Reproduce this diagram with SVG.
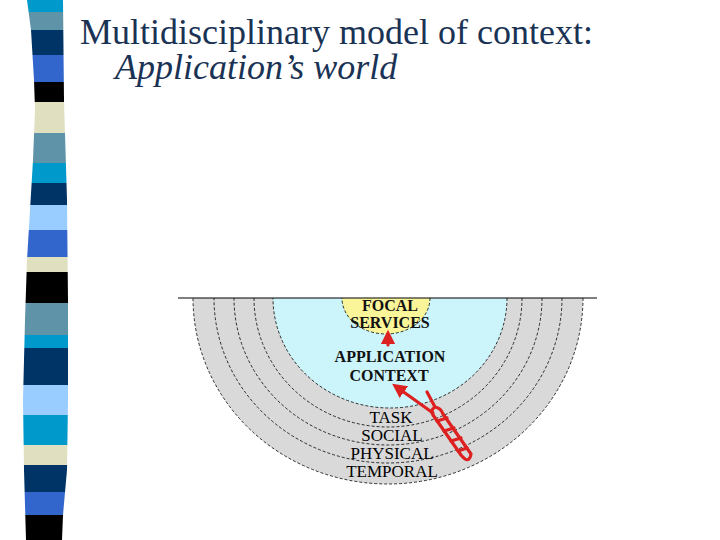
<svg xmlns="http://www.w3.org/2000/svg" width="720" height="540" viewBox="0 0 720 540">
<style>
.ring{stroke:#000;stroke-width:0.8;stroke-dasharray:3 2}
.lbl{font-family:"Liberation Serif","Times New Roman",serif;font-size:17px;fill:#000;text-anchor:middle}
.b{font-weight:bold;font-size:16px;fill:#111}
.red{stroke:#dd2020;stroke-width:3.2;fill:none;stroke-linecap:round;stroke-linejoin:round}
</style>
<defs>
<clipPath id="band"><path d="M27,0 L31,30 L34,80 L35,110 L33,160 L30,210 L27,260 L25,320 L23,400 L24,470 L26,540 L62,540 L63,515 L67,470 L68,400 L68,300 L67,200 L64,100 L63,0 Z"/></clipPath>
<clipPath id="half"><rect x="0" y="298" width="720" height="242"/></clipPath>
<marker id="ah" viewBox="0 0 10 10" refX="5" refY="5" markerWidth="4.5" markerHeight="4.5" orient="auto-start-reverse"><path d="M0,0 L10,5 L0,10 Z" fill="#dd2020"/></marker>
</defs>
<rect width="720" height="540" fill="#fff"/>
<g id="stripes" clip-path="url(#band)">
<rect x="0" y="0" width="80" height="12" fill="#0099cc"/>
<rect x="0" y="12" width="80" height="18" fill="#5f93a8"/>
<rect x="0" y="30" width="80" height="25" fill="#003366"/>
<rect x="0" y="55" width="80" height="27" fill="#3366cc"/>
<rect x="0" y="82" width="80" height="20" fill="#000"/>
<rect x="0" y="102" width="80" height="31" fill="#e0e0c0"/>
<rect x="0" y="133" width="80" height="30" fill="#5f93a8"/>
<rect x="0" y="163" width="80" height="20" fill="#0099cc"/>
<rect x="0" y="183" width="80" height="22" fill="#003366"/>
<rect x="0" y="205" width="80" height="25" fill="#99ccff"/>
<rect x="0" y="230" width="80" height="27" fill="#3366cc"/>
<rect x="0" y="257" width="80" height="15" fill="#e0e0c0"/>
<rect x="0" y="272" width="80" height="31" fill="#000"/>
<rect x="0" y="303" width="80" height="32" fill="#5f93a8"/>
<rect x="0" y="335" width="80" height="13" fill="#0099cc"/>
<rect x="0" y="348" width="80" height="37" fill="#003366"/>
<rect x="0" y="385" width="80" height="30" fill="#99ccff"/>
<rect x="0" y="415" width="80" height="30" fill="#0099cc"/>
<rect x="0" y="445" width="80" height="20" fill="#e0e0c0"/>
<rect x="0" y="465" width="80" height="27" fill="#003366"/>
<rect x="0" y="492" width="80" height="23" fill="#3366cc"/>
<rect x="0" y="515" width="80" height="25" fill="#000"/>
</g>
<g id="title" font-family="'Liberation Serif','Times New Roman',serif" fill="#1a3355">
<text x="80" y="44" font-size="36">Multidisciplinary model of context:</text>
<text x="115" y="79" font-size="36" font-style="italic">Application’s world</text>
</g>
<g id="model" clip-path="url(#half)">
<g id="temporal"><ellipse cx="388" cy="298" rx="195" ry="186" fill="#d9d9d9" class="ring"/></g>
<g id="physical"><ellipse cx="388" cy="298" rx="174" ry="165" fill="#d9d9d9" class="ring"/></g>
<g id="social"><ellipse cx="388" cy="298" rx="154" ry="147" fill="#d9d9d9" class="ring"/></g>
<g id="task"><ellipse cx="388" cy="298" rx="134" ry="129" fill="#d9d9d9" class="ring"/></g>
<g id="application"><ellipse cx="390" cy="298" rx="117" ry="110" fill="#ccf5fb" class="ring"/></g>
<g id="focal"><ellipse cx="386" cy="298" rx="44" ry="36" fill="#fbf59a" class="ring"/></g>
</g>
<line x1="178" y1="298" x2="597" y2="298" stroke="#000" stroke-width="1"/>
<g id="labels">
<text class="lbl b" x="390" y="311">FOCAL</text>
<text class="lbl b" x="390" y="328">SERVICES</text>
<text class="lbl b" x="390" y="362">APPLICATION</text>
<text class="lbl b" x="389" y="381">CONTEXT</text>
<text class="lbl" x="391" y="423">TASK</text>
<text class="lbl" x="392" y="441">SOCIAL</text>
<text class="lbl" x="392" y="459">PHYSICAL</text>
<text class="lbl" x="392" y="477">TEMPORAL</text>
</g>
<g id="connectors">
<line class="red" x1="388" y1="345" x2="388" y2="337" marker-end="url(#ah)"/>
<line class="red" x1="433" y1="413" x2="398" y2="388" marker-end="url(#ah)"/>
<path class="red" d="M427,392 L435,407 Q430,410 433,415 L461,455 Q469,465 471,454 L443,414 Q441,408 435,407"/>
<path class="red" d="M437,421 L447,418 M444,431 L454,428 M451,441 L461,438 M458,451 L467,448" stroke-width="2.6"/>
</g>
</svg>
